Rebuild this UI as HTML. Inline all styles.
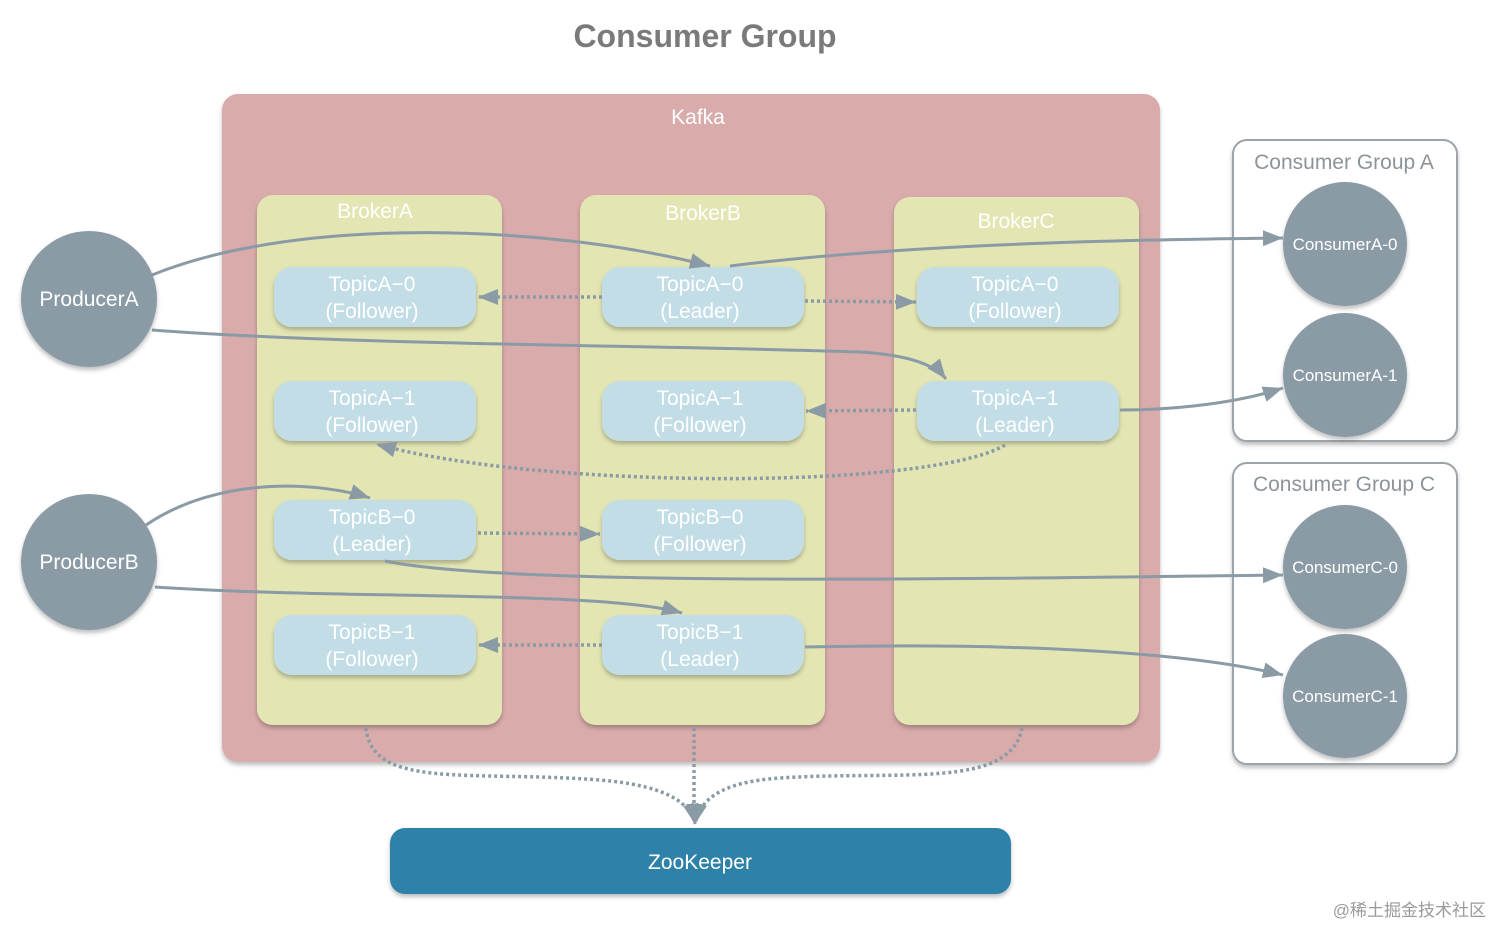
<!DOCTYPE html>
<html><head><meta charset="utf-8"><style>
html,body{margin:0;padding:0;background:#fff;width:1512px;height:946px;overflow:hidden}
svg text{font-family:"Liberation Sans",sans-serif}
</style></head><body>
<svg width="1512" height="946" viewBox="0 0 1512 946" xmlns="http://www.w3.org/2000/svg">
<defs>
<marker id="ar" viewBox="0 0 10 10" refX="10" refY="5" markerWidth="20" markerHeight="20" orient="auto" markerUnits="userSpaceOnUse">
<path d="M0,1 L10,5 L0,9 z" fill="#8a9ba6"/>
</marker>
<filter id="sh" x="-10%" y="-10%" width="120%" height="130%"><feDropShadow dx="0" dy="3" stdDeviation="2" flood-color="#000" flood-opacity="0.25"/></filter>
</defs>
<text x="705" y="47" text-anchor="middle" font-size="32" font-weight="bold" fill="#7a7a7a">Consumer Group</text>

<rect x="222" y="94" width="938" height="668" rx="16" fill="#d9abab" filter="url(#sh)"/>
<text x="698" y="124" text-anchor="middle" font-size="21" fill="#fff">Kafka</text>

<rect x="257" y="195" width="245" height="530" rx="16" fill="#e3e6b3" filter="url(#sh)"/>
<rect x="580" y="195" width="245" height="530" rx="16" fill="#e3e6b3" filter="url(#sh)"/>
<rect x="894" y="197" width="245" height="528" rx="16" fill="#e3e6b3" filter="url(#sh)"/>
<g font-size="21" fill="#fff" text-anchor="middle">
<text x="375" y="218">BrokerA</text><text x="703" y="220">BrokerB</text><text x="1016" y="228">BrokerC</text>
</g>

<g fill="#c3dde7" filter="url(#sh)">
<rect x="274" y="267" width="202" height="60" rx="18"/>
<rect x="274" y="381" width="202" height="60" rx="18"/>
<rect x="274" y="500" width="202" height="60" rx="18"/>
<rect x="274" y="615" width="202" height="60" rx="18"/>
<rect x="602" y="267" width="202" height="60" rx="18"/>
<rect x="602" y="381" width="202" height="60" rx="18"/>
<rect x="602" y="500" width="202" height="60" rx="18"/>
<rect x="602" y="615" width="202" height="60" rx="18"/>
<rect x="917" y="267" width="202" height="60" rx="18"/>
<rect x="917" y="381" width="202" height="60" rx="18"/>
</g>
<g font-size="21" fill="#fff" text-anchor="middle">
<text x="372" y="291">TopicA−0</text><text x="372" y="318">(Follower)</text>
<text x="372" y="405">TopicA−1</text><text x="372" y="432">(Follower)</text>
<text x="372" y="524">TopicB−0</text><text x="372" y="551">(Leader)</text>
<text x="372" y="639">TopicB−1</text><text x="372" y="666">(Follower)</text>
<text x="700" y="291">TopicA−0</text><text x="700" y="318">(Leader)</text>
<text x="700" y="405">TopicA−1</text><text x="700" y="432">(Follower)</text>
<text x="700" y="524">TopicB−0</text><text x="700" y="551">(Follower)</text>
<text x="700" y="639">TopicB−1</text><text x="700" y="666">(Leader)</text>
<text x="1015" y="291">TopicA−0</text><text x="1015" y="318">(Follower)</text>
<text x="1015" y="405">TopicA−1</text><text x="1015" y="432">(Leader)</text>
</g>

<!-- consumer groups -->
<g fill="#fff" stroke="#9aa4aa" stroke-width="2" filter="url(#sh)">
<rect x="1233" y="140" width="224" height="301" rx="14"/>
<rect x="1233" y="463" width="224" height="301" rx="14"/>
</g>
<g font-size="21" fill="#8d9499" text-anchor="middle">
<text x="1344" y="169">Consumer Group A</text><text x="1344" y="491">Consumer Group C</text>
</g>
<g fill="#8a9ba6" filter="url(#sh)">
<circle cx="1345" cy="244" r="62"/><circle cx="1345" cy="375" r="62"/>
<circle cx="1345" cy="567" r="62"/><circle cx="1345" cy="696" r="62"/>
</g>
<g font-size="17" fill="#fff" text-anchor="middle">
<text x="1345" y="250">ConsumerA-0</text><text x="1345" y="381">ConsumerA-1</text>
<text x="1345" y="573">ConsumerC-0</text><text x="1345" y="702">ConsumerC-1</text>
</g>

<!-- dotted replication -->
<g fill="none" stroke="#8a9ba6" stroke-width="3.5" stroke-dasharray="3,3" marker-end="url(#ar)">
<path d="M602,297 L478,297"/>
<path d="M805,301 L916,302"/>
<path d="M916,410 L806,411"/>
<path d="M1005,445 C930,490 540,490 376,444"/>
<path d="M478,533 L600,534"/>
<path d="M602,645 L478,645"/>
<path d="M366,728 C372,790 470,770 600,780 C660,785 690,800 695,824"/>
<path d="M694,728 L694,824"/>
<path d="M1022,728 C1010,790 900,770 780,778 C720,782 700,800 695,824"/>
</g>

<!-- solid connectors -->
<g fill="none" stroke="#8a9ba6" stroke-width="3" marker-end="url(#ar)">
<path d="M152,275 C300,215 550,225 710,266"/>
<path d="M730,266 C900,245 1100,240 1283,238"/>
<path d="M152,330 C350,345 650,345 860,352 C910,355 935,365 946,379"/>
<path d="M1120,410 C1180,410 1240,402 1283,388"/>
<path d="M146,525 C220,475 320,482 370,498"/>
<path d="M385,561 C500,585 900,580 1283,575"/>
<path d="M155,587 C350,600 600,590 682,613"/>
<path d="M805,647 C1000,643 1180,650 1283,675"/>
</g>

<!-- producers -->
<g fill="#8a9ba6" filter="url(#sh)">
<circle cx="89" cy="299" r="68"/><circle cx="89" cy="562" r="68"/>
</g>
<g font-size="21" fill="#fff" text-anchor="middle">
<text x="89" y="306">ProducerA</text><text x="89" y="569">ProducerB</text>
</g>

<rect x="390" y="828" width="621" height="66" rx="15" fill="#2e81a9" filter="url(#sh)"/>
<text x="700" y="869" text-anchor="middle" font-size="21" fill="#fff">ZooKeeper</text>

<text x="1486" y="916" text-anchor="end" font-size="17" fill="#9a9a9a" font-family="'Liberation Sans','Noto Sans CJK SC',sans-serif">@稀土掘金技术社区</text>
</svg>
</body></html>
